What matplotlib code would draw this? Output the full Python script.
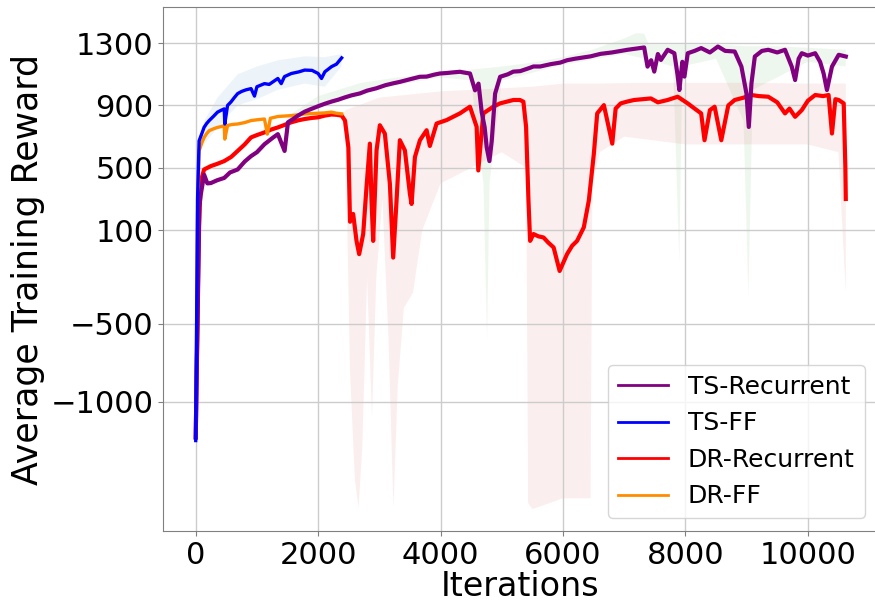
"""Average training reward curves: TS vs DR, recurrent vs feed-forward."""

import matplotlib

matplotlib.use('Agg')

import matplotlib.pyplot as plt
import numpy as np

# ---- TS-Recurrent (purple) ----
ts_rec_x = [0, 60, 82, 137, 190, 247, 350, 466, 560, 685, 800, 904, 1000, 1123, 1250,
            1342, 1452, 1507, 1600, 1671, 1780, 1890, 2000, 2110, 2220, 2329, 2440, 2548,
            2681, 2800, 2950, 3100, 3226, 3333, 3500, 3661, 3772, 3900, 3989, 4100, 4200,
            4317, 4400, 4481, 4563, 4620, 4672, 4720, 4754, 4798, 4836, 4891, 4973, 5100,
            5188, 5300, 5450, 5518, 5628, 5800, 5956, 6066, 6200, 6284, 6450, 6614, 6800,
            7052, 7200, 7326, 7381, 7440, 7491, 7550, 7600, 7710, 7819, 7870, 7901, 7950,
            7984, 8038, 8150, 8257, 8400, 8531, 8650, 8805, 8915, 8997, 9035, 9079, 9134,
            9250, 9353, 9500, 9627, 9737, 9792, 9850, 9901, 10000, 10120, 10200, 10257,
            10312, 10394, 10504, 10620]
ts_rec_y = [-1230, 250, 327, 456, 400, 402, 420, 435, 470, 489, 540, 575, 600, 651, 690,
            716, 608, 792, 815, 835, 860, 878, 895, 911, 925, 937, 952, 965,
            977, 995, 1010, 1030, 1042, 1051, 1068, 1084, 1085, 1098, 1105, 1108, 1112,
            1116, 1110, 1105, 997, 1040, 857, 760, 630, 543, 673, 976, 1084, 1100,
            1117, 1120, 1140, 1150, 1150, 1165, 1175, 1190, 1200, 1205, 1215, 1231, 1240,
            1257, 1265, 1272, 1149, 1190, 1117, 1230, 1192, 1257, 1235, 1100, 999, 1180,
            1085, 1235, 1250, 1268, 1240, 1278, 1250, 1246, 1149, 977, 762, 1042, 1214,
            1250, 1257, 1240, 1257, 1149, 1063, 1200, 1235, 1220, 1235, 1180, 1106,
            999, 1149, 1225, 1214]

# ---- TS-FF (blue) ----
ts_ff_x = [0, 30, 55, 100, 137, 180, 220, 290, 356, 420, 466, 475, 520, 575, 630, 685,
           750, 820, 904, 960, 1000, 1123, 1200, 1342, 1397, 1450, 1562, 1680, 1781, 1900,
           2000, 2055, 2110, 2219, 2300, 2384]
ts_ff_y = [-1250, 300, 673, 720, 760, 785, 803, 830, 857, 870, 878, 781, 900, 922, 950, 976,
           990, 1000, 1008, 960, 1020, 1040, 1035, 1073, 1040, 1085, 1105, 1115, 1127, 1125,
           1105, 1073, 1116, 1149, 1165, 1205]

# ---- DR-Recurrent (red) ----
dr_rec_x = [0, 50, 82, 137, 247, 350, 466, 580, 685, 800, 904, 1000, 1123, 1230, 1342,
            1450, 1562, 1680, 1781, 1900, 2000, 2110, 2219, 2300, 2384, 2439, 2494, 2521,
            2572, 2627, 2670, 2736, 2790, 2845, 2872, 2899, 2954, 3008, 3090, 3172, 3226,
            3281, 3335, 3417, 3499, 3526, 3581, 3663, 3772, 3825, 3935, 4098, 4316, 4480,
            4589, 4616, 4698, 4861, 4970, 5079, 5189, 5297, 5353, 5397, 5436, 5463, 5518,
            5600, 5682, 5760, 5847, 5945, 6066, 6150, 6230, 6340, 6422, 6504, 6559, 6668,
            6805, 6860, 6942, 7050, 7162, 7300, 7436, 7550, 7709, 7874, 8038, 8150, 8257,
            8312, 8400, 8477, 8586, 8700, 8805, 8950, 9079, 9200, 9353, 9500, 9627, 9700,
            9792, 9901, 10000, 10120, 10250, 10339, 10394, 10450, 10504, 10586, 10613, 10620]
dr_rec_y = [-1230, 100, 414, 489, 511, 525, 543, 570, 608, 650, 695, 710, 727, 745, 759,
            775, 792, 805, 813, 820, 824, 835, 842, 840, 835, 803, 630, 154,
            204, 31, -54, 75, 376, 655, 290, 31, 612, 773, 719, 397, -76,
            290, 677, 612, 333, 268, 569, 677, 741, 640, 784, 806, 849, 892,
            763, 483, 849, 892, 913, 924, 935, 935, 924, 763, 290, 31, 75,
            60, 53, 20, -11, -162, -54, 0, 31, 118, 290, 590, 849, 902,
            655, 880, 913, 925, 935, 940, 945, 920, 935, 956, 913, 880, 849,
            677, 870, 892, 677, 900, 935, 950, 967, 960, 956, 920, 849, 880,
            827, 870, 930, 967, 960, 967, 720, 940, 935, 913, 504, 300]

# ---- DR-FF (orange) ----
dr_ff_x = [0, 30, 55, 100, 137, 180, 220, 290, 356, 420, 466, 475, 520, 600, 685, 800,
           904, 1000, 1123, 1170, 1220, 1342, 1450, 1562, 1680, 1781, 1900, 2000, 2100,
           2219, 2300, 2384]
dr_ff_y = [-1230, 200, 608, 660, 695, 720, 738, 750, 759, 765, 770, 684, 772, 778, 781, 790,
           803, 808, 813, 716, 818, 829, 832, 835, 840, 846, 848, 850, 852,
           857, 850, 846]

# ---- shaded spread bands ----
ts_ff_band_x = [137, 356, 685, 1000, 1342, 1781, 2110, 2384]
ts_ff_band_hi = [800, 950, 1100, 1150, 1190, 1215, 1210, 1230]
ts_ff_band_lo = [650, 760, 900, 940, 1000, 1040, 1020, 1150]

ts_rec_hi_x = [1500, 2000, 2700, 3300, 4000, 4500, 5000, 5500, 6000, 6500, 7000,
               7200, 7330, 7400, 8000, 8500, 9000, 9500, 10000, 10620]
ts_rec_hi_y = [830, 960, 1045, 1080, 1110, 1130, 1150, 1175, 1210, 1260, 1330,
               1364, 1360, 1290, 1290, 1290, 1280, 1280, 1270, 1257]
ts_rec_lo_x = [1500, 2000, 3000, 4000, 4500, 4700, 4760, 4800, 5000, 6000, 7000, 7330,
               7800, 7900, 7950, 8500, 8950, 9030, 9100, 10000, 10620]
ts_rec_lo_y = [780, 900, 1010, 1080, 1060, 400, -600, 400, 1060, 1160, 1230, 1200,
               1150, -100, 1150, 1200, 800, -330, 1000, 1180, 1150]

dr_rec_hi_x = [2400, 2450, 3000, 4000, 5000, 5500, 6000, 6500, 7300, 8000,
               9000, 10000, 10620]
dr_rec_hi_y = [840, 870, 950, 990, 1010, 1020, 1040, 1040, 1045, 1045,
               1045, 1040, 1040]
dr_rec_lo_x = [2400, 2450, 2520, 2600, 2660, 2720, 2800, 2880, 2950, 3050,
               3150, 3230, 3300, 3400, 3550, 3700, 4000, 4500, 5000, 5400, 5430, 5500, 6000,
               6450, 6480, 6600, 7000, 8000, 9000, 10000, 10500, 10620]
dr_rec_lo_y = [800, 700, -800, -1500, -1680, -1300, -200, -1100, -200, 300,
               -600, -1680, -900, -400, -300, 100, 400, 500, 600, 500, -1650, -1690, -1620,
               -1620, 400, 600, 700, 650, 650, 650, 600, -300]


def band(ax, xh, yh, xl, yl, color, alpha):
    xs = np.concatenate([xh, xl[::-1]])
    ys = np.concatenate([yh, yl[::-1]])
    ax.fill(xs, ys, color=color, alpha=alpha, lw=0)


def main():
    fig = plt.figure(figsize=(8.75, 6.04), dpi=100)
    ax = fig.add_axes([0.1866, 0.1209, 0.8157, 0.8671])

    band(ax, ts_rec_hi_x, ts_rec_hi_y, ts_rec_lo_x, ts_rec_lo_y, 'tab:green', 0.08)
    band(ax, dr_rec_hi_x, dr_rec_hi_y, dr_rec_lo_x, dr_rec_lo_y, 'tab:red', 0.08)
    band(ax, ts_ff_band_x, ts_ff_band_hi, ts_ff_band_x, ts_ff_band_lo, 'tab:blue', 0.08)

    # noisy curves read as thick strokes
    l_red, = ax.plot(dr_rec_x, dr_rec_y, color='red', lw=3.0, label='DR-Recurrent')
    l_org, = ax.plot(dr_ff_x, dr_ff_y, color='darkorange', lw=2.4, label='DR-FF')
    l_pur, = ax.plot(ts_rec_x, ts_rec_y, color='purple', lw=3.0, label='TS-Recurrent')
    l_blu, = ax.plot(ts_ff_x, ts_ff_y, color='blue', lw=2.4, label='TS-FF')

    ax.set_xlim(-530, 11130)
    ax.set_ylim(-1830, 1530)
    ax.set_yticks([1300, 900, 500, 100, -500, -1000])
    ax.set_xticks([0, 2000, 4000, 6000, 8000, 10000])
    ax.tick_params(labelsize=22, color='gray')
    ax.set_xlabel('Iterations', fontsize=24, labelpad=0)
    ax.set_ylabel('Average Training Reward', fontsize=25)
    ax.grid(True, color='#cccccc', lw=1.0)
    for s in ax.spines.values():
        s.set_color('gray')

    leg = ax.legend(handles=[l_pur, l_blu, l_red, l_org], loc='lower right', fontsize=18)
    for h in leg.get_lines():
        h.set_linewidth(2.0)

    fig.savefig('out.png', dpi=100)


if __name__ == '__main__':
    main()
